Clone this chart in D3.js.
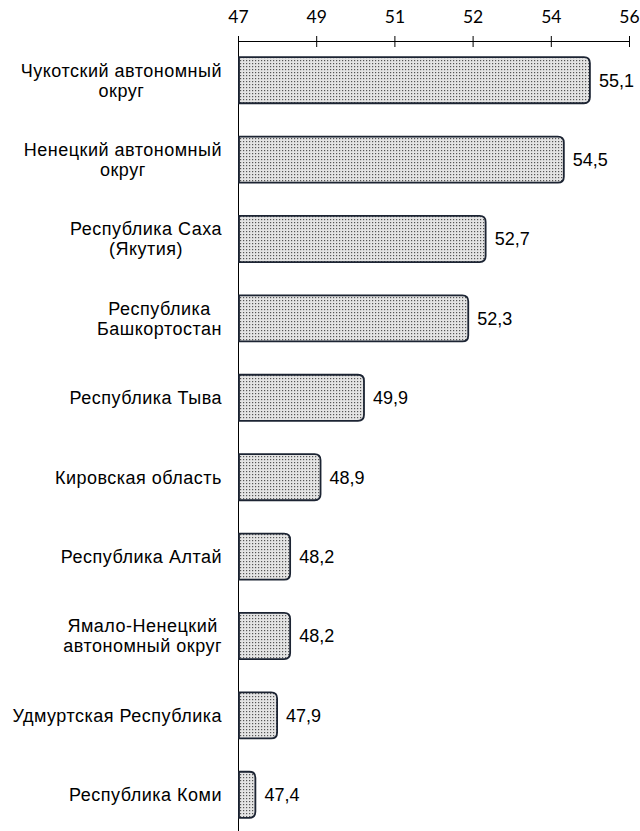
<!DOCTYPE html>
<html>
<head>
<meta charset="utf-8">
<script src="https://cdn.jsdelivr.net/npm/d3@7"></script>
<style>
  body { margin: 0; background: #fff; }
  svg { font-family: "Liberation Sans", Arial, sans-serif; }
  .axis text { font-family: Lato, "Liberation Sans", sans-serif; font-size: 17.5px; fill: #000; }
  .axis line, .axis path { stroke: #000; stroke-width: 1; }
</style>
</head>
<body>
<svg width="640" height="831"></svg>
<script>
const regions = [
  ["Чукотский автономный", "округ"],
  ["Ненецкий автономный", "округ"],
  ["Республика Саха", "(Якутия)"],
  ["Республика", "Башкортостан"],
  ["Республика Тыва"],
  ["Кировская область"],
  ["Республика Алтай"],
  ["Ямало-Ненецкий", "автономный округ"],
  ["Удмуртская Республика"],
  ["Республика Коми"]
];
const values = [55.1, 54.5, 52.7, 52.3, 49.9, 48.9, 48.2, 48.2, 47.9, 47.4];
const tickValues = [47, 48.8, 50.6, 52.4, 54.2, 56];

const svg = d3.select("svg");
const plotLeft = 238, plotRight = 629, axisY = 41;

const x = d3.scaleLinear().domain([47, 56]).range([plotLeft, plotRight]);
const y = d3.scaleBand()
  .domain(d3.range(values.length))
  .range([40.5, 834.5])
  .paddingInner(0.42)
  .paddingOuter(0.21);

// dotted fill like the original
const pattern = svg.append("defs").append("pattern")
  .attr("id", "dots")
  .attr("patternUnits", "userSpaceOnUse")
  .attr("width", 3).attr("height", 3);
pattern.append("rect").attr("width", 3).attr("height", 3).attr("fill", "#e4e4e4");
pattern.append("rect").attr("width", 1.2).attr("height", 1.2).attr("fill", "#555");

// axis
const gX = svg.append("g")
  .attr("class", "axis")
  .attr("transform", `translate(0,${axisY})`)
  .call(d3.axisTop(x).tickValues(tickValues).tickFormat(d3.format(".0f")).tickSizeOuter(0));
gX.selectAll(".tick line").attr("y1", -5).attr("y2", 6);
gX.selectAll(".tick text").attr("y", -18);

svg.append("line")
  .attr("x1", plotLeft + 0.5).attr("x2", plotLeft + 0.5)
  .attr("y1", axisY - 5).attr("y2", 831)
  .attr("stroke", "#000");

function barPath(x0, x1, y0, h, r) {
  return `M${x0},${y0}H${x1 - r}Q${x1},${y0} ${x1},${y0 + r}V${y0 + h - r}Q${x1},${y0 + h} ${x1 - r},${y0 + h}H${x0}Z`;
}

// bars
svg.selectAll("path.bar")
  .data(values)
  .join("path")
  .attr("class", "bar")
  .attr("d", (v, i) => barPath(x(47) + 1, x(v), y(i), y.bandwidth(), 6))
  .attr("fill", "url(#dots)")
  .attr("stroke", "#1c2433")
  .attr("stroke-width", 1.8);

// values
svg.selectAll("text.value")
  .data(values)
  .join("text")
  .attr("class", "value")
  .attr("x", v => x(v) + 9)
  .attr("y", (v, i) => y(i) + y.bandwidth() / 2)
  .attr("dy", "0.35em")
  .attr("font-size", 18)
  .text(v => d3.format(".1f")(v).replace(".", ","));

// category labels (lines centered inside a right-aligned block)
const labelRight = 222, lineH = 20;
regions.forEach((lines, i) => {
  const g = svg.append("g");
  const cy = y(i) + y.bandwidth() / 2;
  const texts = lines.map((s, k) => g.append("text")
    .attr("font-size", 18)
    .attr("letter-spacing", 0.5)
    .attr("text-anchor", "middle")
    .attr("y", cy + (k - (lines.length - 1) / 2) * lineH)
    .attr("dy", "0.35em")
    .text(s));
  const w = d3.max(texts, t => t.node().getComputedTextLength());
  texts.forEach(t => t.attr("x", labelRight - w / 2));
});
</script>
</body>
</html>
